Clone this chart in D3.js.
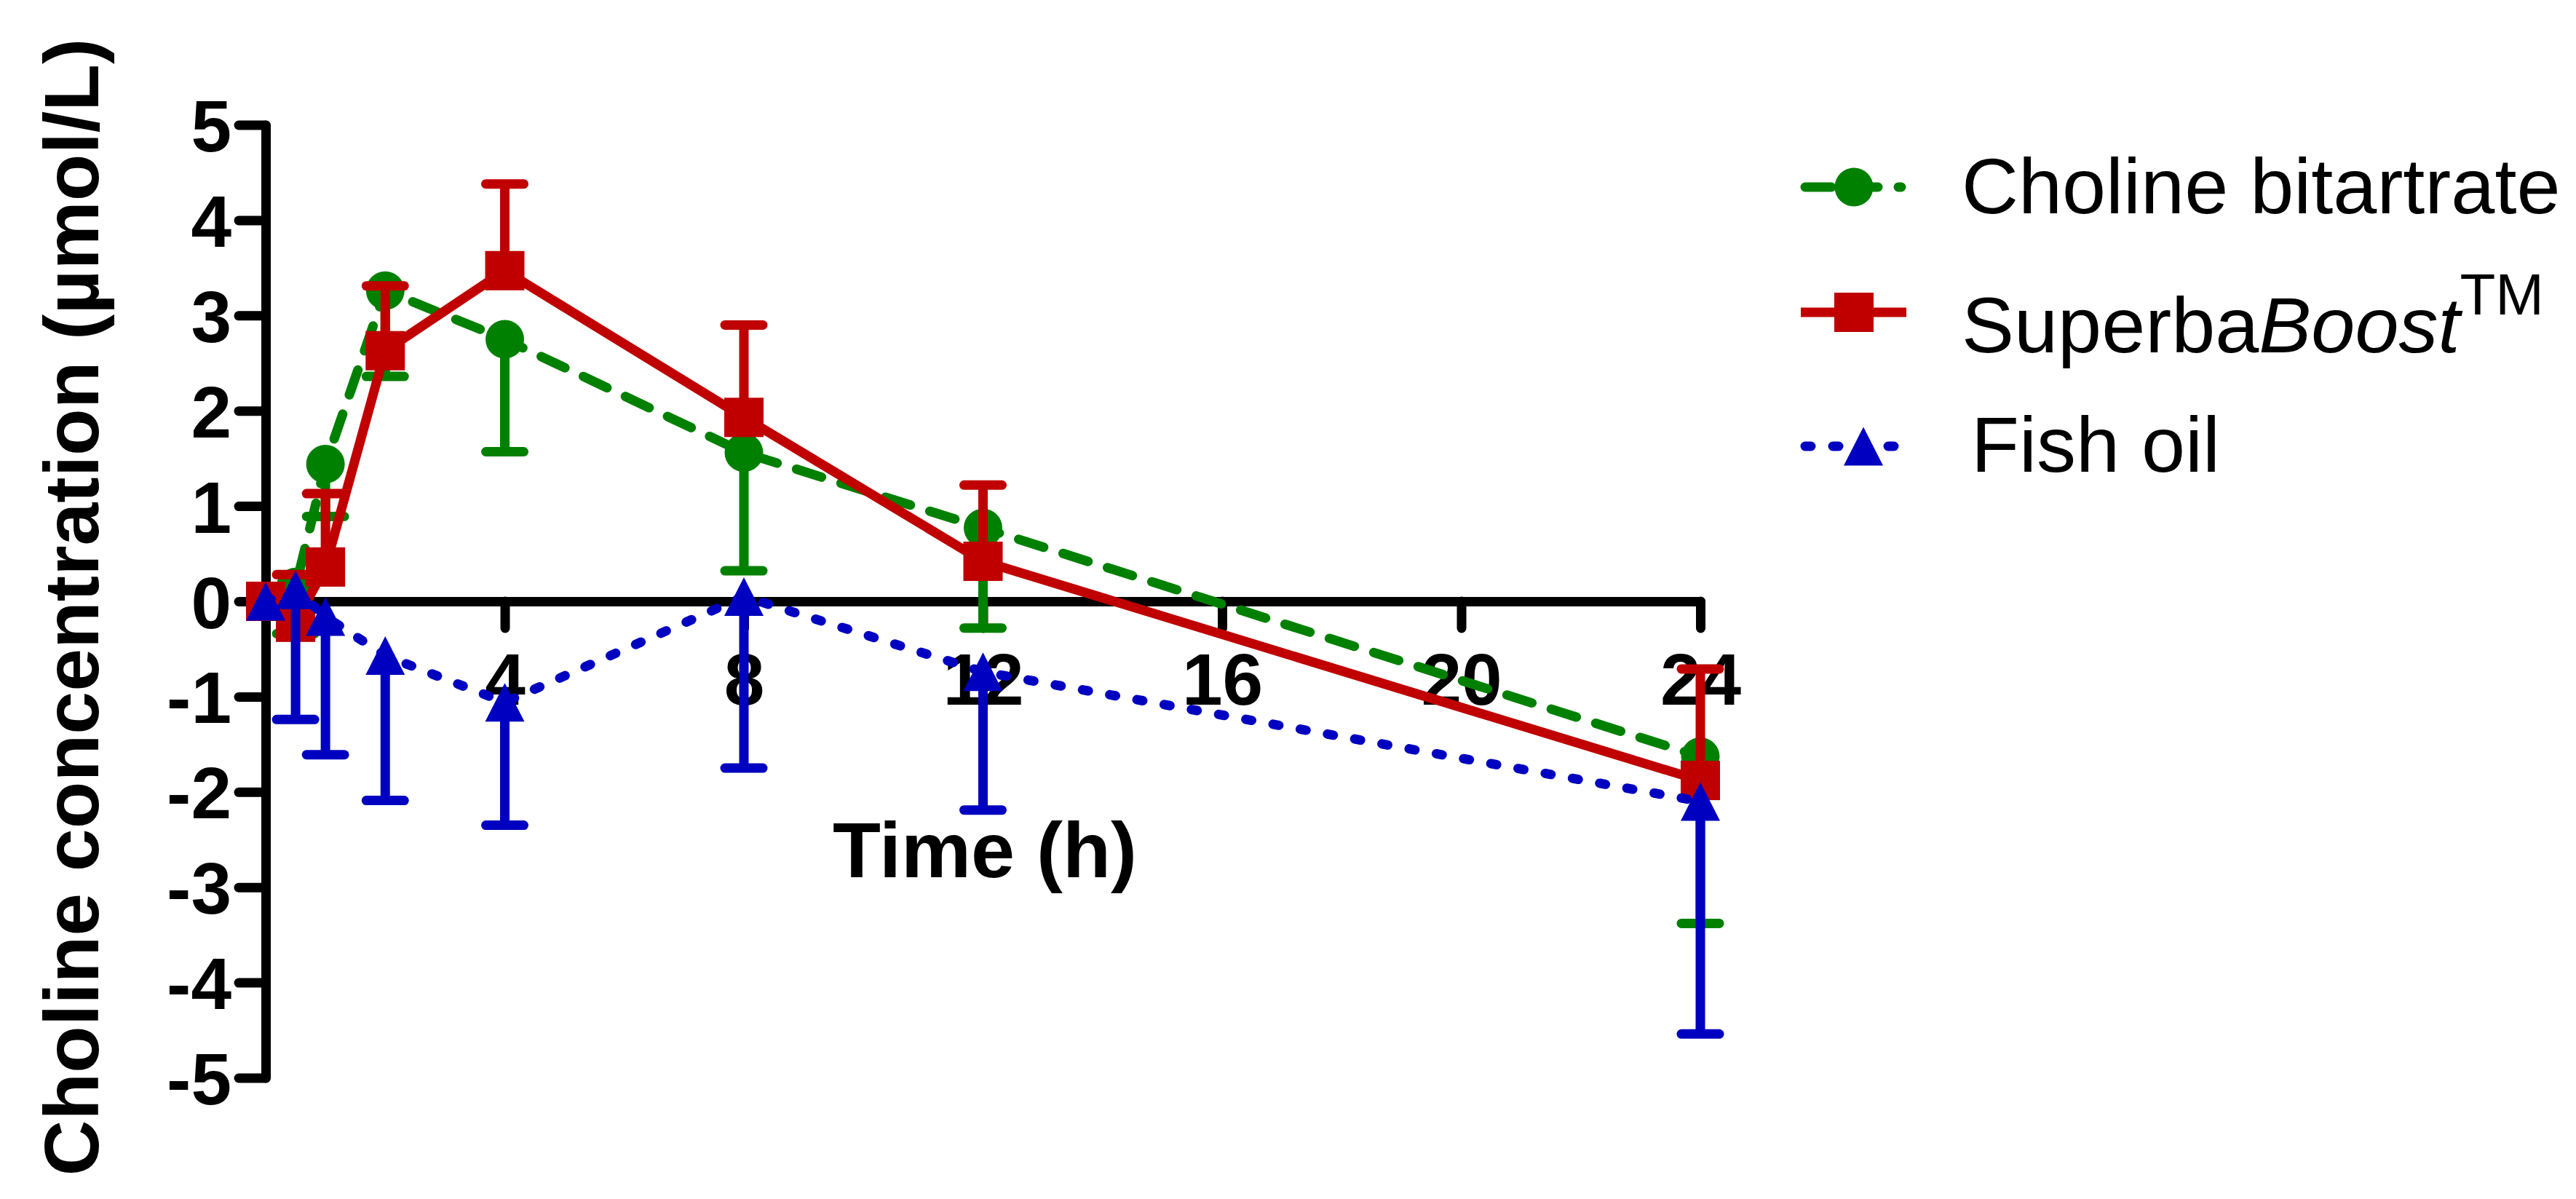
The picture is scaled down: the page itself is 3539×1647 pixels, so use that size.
<!DOCTYPE html>
<html>
<head>
<meta charset="utf-8">
<script src="https://cdn.jsdelivr.net/npm/d3@7"></script>
<style>
    body { margin: 0; background: #fff; }
    text { font-family: "Liberation Sans", Arial, sans-serif; }
</style>
</head>
<body>
<div id="chart"></div>
<script>
// Data
var times = [0, 0.5, 1, 2, 4, 8, 12, 24];

var cholineMean = [0, 0.15, 1.44, 3.26, 2.75, 1.56, 0.77, -1.63];
var cholineErr = [0, 0.49, 0.55, 0.90, 1.18, 1.24, 1.05, 1.75];

var superbaMean = [0, -0.22, 0.36, 2.63, 3.47, 1.93, 0.42, -1.88];
var superbaErr = [0, 0.50, 0.77, 0.68, 0.91, 0.97, 0.80, 1.17];

var fishMean = [0, 0.12, -0.16, -0.57, -1.06, 0.05, -0.74, -2.10];
var fishErr = [0, 1.36, 1.45, 1.52, 1.29, 1.80, 1.45, 2.44];

var xTicks = [4, 8, 12, 16, 20, 24];
var yTicks = [-5, -4, -3, -2, -1, 0, 1, 2, 3, 4, 5];

var xTitle = "Time (h)";
var yTitle = "Choline concentration (\u00b5mol/L)";

// Series settings (green first so red and blue sit on top)
var series = [
    { mean: cholineMean, err: cholineErr, dir: -1, color: "#008000", dash: "36 28", shape: "circle",
      label: [{ text: "Choline bitartrate" }] },
    { mean: superbaMean, err: superbaErr, dir: 1, color: "#c00000", dash: null, shape: "square",
      label: [{ text: "Superba" }, { text: "Boost", italic: true }, { text: "TM", sup: true }] },
    { mean: fishMean, err: fishErr, dir: -1, color: "#0000c0", dash: "8 30", shape: "triangle",
      label: [{ text: "Fish oil" }] }
];

// General chart parameters
var svgWidth = 3539;
var svgHeight = 1647;
var lw = 13;

var svg = d3.select("#chart")
    .append("svg")
    .attr("width", svgWidth)
    .attr("height", svgHeight);

svg.append("rect")
    .attr("width", svgWidth)
    .attr("height", svgHeight)
    .attr("fill", "white");

var xScale = d3.scaleLinear().domain([0, 24]).range([365, 2336]);
var yScale = d3.scaleLinear().domain([-5, 5]).range([1480.5, 171.5]);

// X axis
var xAxis = svg.append("g")
    .attr("transform", `translate(0, ${yScale(0)})`)
    .call(d3.axisBottom(xScale).tickValues(xTicks).tickSize(37).tickSizeOuter(0));

// Y axis
var yAxis = svg.append("g")
    .attr("transform", `translate(${xScale(0)}, 0)`)
    .call(d3.axisLeft(yScale).tickValues(yTicks).tickSize(37).tickPadding(10)
        .tickSizeOuter(0).tickFormat(d => String(d)));

[xAxis, yAxis].forEach(function (ax) {
    ax.attr("font-family", "Liberation Sans, Arial, sans-serif")
        .attr("font-size", 100)
        .attr("font-weight", "bold");
    ax.selectAll("path, line")
        .attr("stroke", "black")
        .attr("stroke-width", lw)
        .attr("stroke-linecap", "round")
        .attr("stroke-linejoin", "round");
    ax.selectAll("text").attr("fill", "black");
});
xAxis.selectAll("text").attr("y", 142).attr("dy", null);
yAxis.selectAll("text").attr("dy", "0.36em");

// Axis titles
svg.append("text")
    .attr("x", 1353)
    .attr("y", 1205)
    .attr("text-anchor", "middle")
    .attr("font-size", 108)
    .attr("font-weight", "bold")
    .text(xTitle);

svg.append("text")
    .attr("transform", "translate(135, 834) rotate(-90)")
    .attr("text-anchor", "middle")
    .attr("font-size", 106)
    .attr("font-weight", "bold")
    .text(yTitle);

// Marker drawing
function addMarker(sel, shape, color) {
    if (shape === "circle") {
        sel.append("circle").attr("r", 26.5).attr("fill", color);
    } else if (shape === "square") {
        sel.append("rect").attr("x", -27).attr("y", -27)
            .attr("width", 54).attr("height", 54).attr("fill", color);
    } else {
        sel.append("path").attr("d", "M0,-26.5L27,26.5L-27,26.5Z").attr("fill", color);
    }
}

var line = d3.line()
    .x(d => xScale(d.t))
    .y(d => yScale(d.v));

// Series: line, error bars, markers
series.forEach(function (s) {
    var pts = times.map((t, i) => ({ t: t, v: s.mean[i], e: s.err[i] }));
    var g = svg.append("g");

    g.append("path")
        .datum(pts)
        .attr("d", line)
        .attr("fill", "none")
        .attr("stroke", s.color)
        .attr("stroke-width", lw)
        .attr("stroke-linejoin", "round")
        .attr("stroke-linecap", s.dash ? "round" : "butt")
        .attr("stroke-dasharray", s.dash);

    var bars = g.selectAll(".err")
        .data(pts.filter(d => d.e > 0))
        .enter()
        .append("g")
        .attr("class", "err");

    // stem
    bars.append("line")
        .attr("x1", d => xScale(d.t))
        .attr("x2", d => xScale(d.t))
        .attr("y1", d => yScale(d.v))
        .attr("y2", d => yScale(d.v + s.dir * d.e))
        .attr("stroke", s.color)
        .attr("stroke-width", lw);

    // cap
    bars.append("line")
        .attr("x1", d => xScale(d.t) - 26)
        .attr("x2", d => xScale(d.t) + 26)
        .attr("y1", d => yScale(d.v + s.dir * d.e))
        .attr("y2", d => yScale(d.v + s.dir * d.e))
        .attr("stroke", s.color)
        .attr("stroke-width", lw)
        .attr("stroke-linecap", "round");

    var marks = g.selectAll(".mark")
        .data(pts)
        .enter()
        .append("g")
        .attr("class", "mark")
        .attr("transform", d => `translate(${xScale(d.t)}, ${yScale(d.v)})`);
    addMarker(marks, s.shape, s.color);
});

// Legend
var legendRowY = [257, 429, 613];
var legendTextY = [293, 484, 648];
var legendTextX = [2695, 2695, 2708];
var legendMarkX = [2547, 2547, 2560];

series.forEach(function (s, i) {
    var y0 = legendRowY[i];
    svg.append("line")
        .attr("x1", s.dash ? 2480 : 2474)
        .attr("x2", s.dash ? 2612 : 2619)
        .attr("y1", y0)
        .attr("y2", y0)
        .attr("stroke", s.color)
        .attr("stroke-width", lw)
        .attr("stroke-linecap", s.dash ? "round" : "butt")
        .attr("stroke-dasharray", s.dash);

    var m = svg.append("g").attr("transform", `translate(${legendMarkX[i]}, ${y0})`);
    addMarker(m, s.shape, s.color);

    var t = svg.append("text")
        .attr("x", legendTextX[i])
        .attr("y", legendTextY[i])
        .attr("font-size", 108)
        .attr("fill", "black");
    s.label.forEach(function (p) {
        var ts = t.append("tspan").text(p.text);
        if (p.italic) ts.attr("font-style", "italic");
        if (p.sup) ts.attr("font-size", 80).attr("dy", -52);
    });
});
</script>
</body>
</html>
